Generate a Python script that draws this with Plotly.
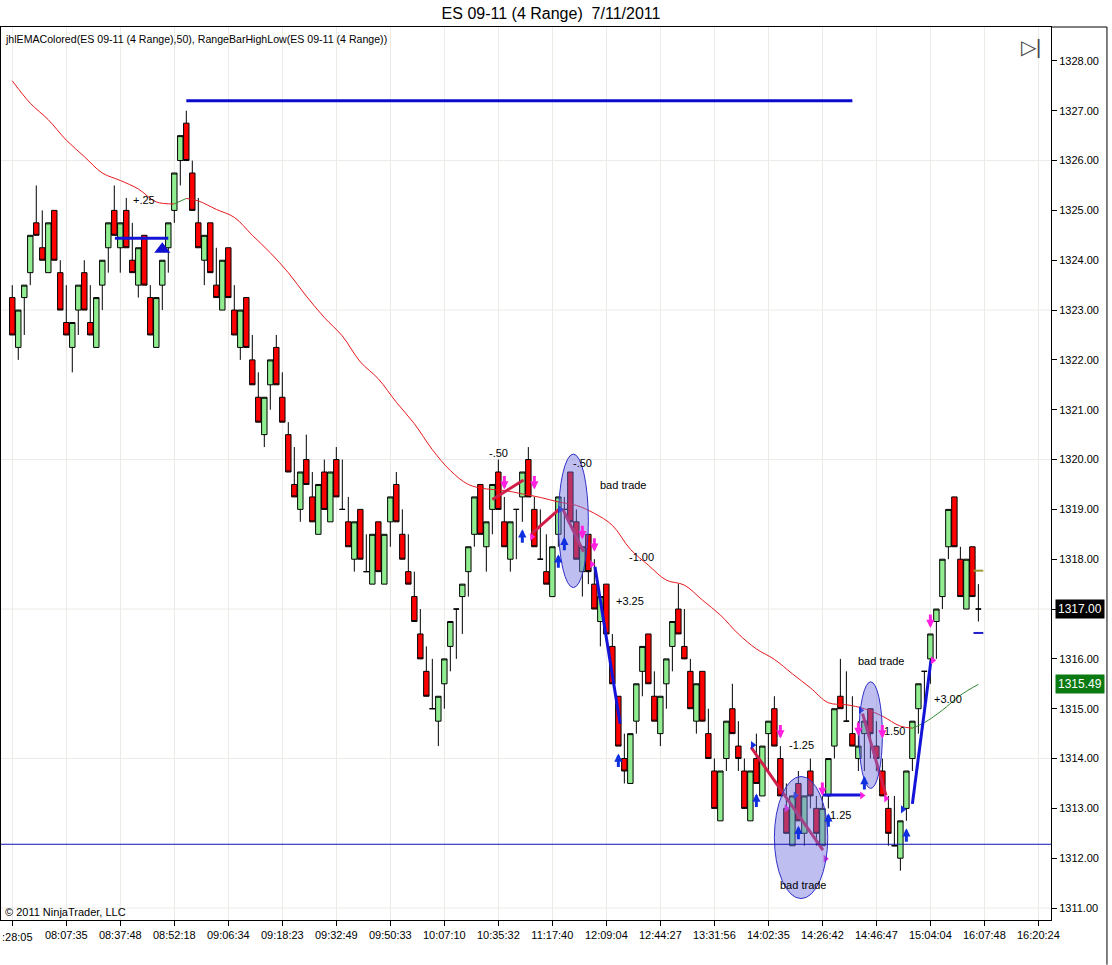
import plotly.graph_objects as go

# Range bars, ES 09-11 (4 Range), 7/11/2011
bar_open = [
    1323.25, 1322.25, 1323.25, 1323.75, 1324.75, 1324.25, 1323.75, 1325.0, 1323.75, 1322.75,
    1322.25, 1323.0, 1323.75, 1322.75, 1322.25, 1323.5, 1324.25, 1325.0, 1324.25, 1325.0,
    1324.0, 1323.5, 1324.5, 1323.25, 1322.25, 1323.5, 1324.25, 1325.0, 1326.0, 1326.75,
    1325.75, 1324.75, 1324.0, 1324.75, 1323.5, 1323.0, 1324.25, 1323.0, 1322.25, 1323.25,
    1322.0, 1321.25, 1320.5, 1321.5, 1322.25, 1321.25, 1320.5, 1319.5, 1319.0, 1320.0,
    1319.25, 1318.5, 1319.75, 1318.75, 1320.0, 1319.0, 1318.75, 1318.0, 1319.0, 1317.75,
    1317.5, 1318.75, 1317.5, 1318.75, 1319.5, 1318.5, 1317.75, 1317.25, 1316.5, 1315.75,
    1315.0, 1314.75, 1315.5, 1316.25, 1317.0, 1317.25, 1317.75, 1318.5, 1319.5, 1318.25,
    1319.0, 1319.75, 1318.75, 1318.0, 1319.0, 1319.25, 1320.0, 1319.0, 1318.0, 1317.75,
    1317.25, 1318.5, 1319.0, 1319.75, 1318.75, 1317.75, 1318.5, 1317.5, 1316.75, 1317.5,
    1316.25, 1315.25, 1314.0, 1313.5, 1314.75, 1315.75, 1316.5, 1315.25, 1314.5, 1315.5,
    1316.25, 1317.0, 1316.25, 1315.75, 1314.75, 1315.75, 1314.5, 1313.75, 1312.75, 1314.0,
    1315.0, 1314.25, 1313.75, 1312.75, 1314.0, 1313.25, 1314.5, 1315.0, 1314.0, 1313.0,
    1312.25, 1313.5, 1312.5, 1313.75, 1313.0, 1312.25, 1313.25, 1314.25, 1315.25, 1314.75,
    1314.5, 1314.0, 1314.5, 1315.0, 1314.25, 1313.75, 1313.0, 1312.25, 1312.0, 1313.0,
    1314.0, 1315.0, 1315.75, 1316.0, 1316.75, 1317.25, 1318.25, 1319.25, 1318.0, 1317.0,
    1318.25, 1317.0,
]
bar_high = [
    1323.5, 1323.0, 1323.5, 1324.5, 1325.5, 1325.0, 1324.75, 1325.0, 1324.0, 1323.5,
    1322.75, 1323.5, 1324.0, 1323.5, 1323.25, 1324.0, 1324.75, 1325.5, 1324.75, 1325.25,
    1324.75, 1324.25, 1324.5, 1323.5, 1323.25, 1324.0, 1324.75, 1325.75, 1326.5, 1327.0,
    1326.0, 1325.25, 1324.5, 1324.75, 1324.25, 1324.0, 1324.25, 1323.5, 1323.0, 1323.25,
    1322.5, 1321.75, 1321.25, 1322.0, 1322.5, 1321.75, 1320.75, 1320.25, 1319.75, 1320.5,
    1319.75, 1319.5, 1320.0, 1319.75, 1320.25, 1320.0, 1319.25, 1318.75, 1319.0, 1318.5,
    1318.5, 1318.75, 1318.5, 1319.25, 1319.75, 1319.0, 1318.5, 1317.75, 1317.0, 1316.25,
    1316.0, 1315.25, 1316.0, 1316.75, 1317.0, 1317.5, 1318.25, 1319.25, 1319.5, 1318.75,
    1319.5, 1320.0, 1319.25, 1318.75, 1319.0, 1319.75, 1320.25, 1319.25, 1319.0, 1318.5,
    1318.25, 1319.25, 1319.25, 1319.75, 1319.0, 1318.25, 1318.5, 1318.0, 1317.25, 1317.5,
    1316.5, 1315.25, 1314.5, 1314.5, 1315.5, 1316.25, 1316.5, 1315.75, 1315.25, 1316.0,
    1316.75, 1317.5, 1317.0, 1316.0, 1315.5, 1315.75, 1315.0, 1314.0, 1313.75, 1314.75,
    1315.5, 1314.75, 1314.0, 1313.75, 1314.5, 1314.25, 1314.75, 1315.25, 1314.25, 1313.5,
    1313.25, 1313.75, 1313.25, 1314.0, 1313.25, 1313.25, 1314.0, 1315.0, 1316.0, 1315.75,
    1315.25, 1314.75, 1314.75, 1315.0, 1314.75, 1314.0, 1313.25, 1313.25, 1312.75, 1313.75,
    1314.75, 1315.5, 1315.75, 1316.5, 1317.0, 1318.0, 1319.0, 1319.25, 1318.25, 1318.0,
    1318.25, 1317.5,
]
bar_low = [
    1322.5, 1322.0, 1322.5, 1323.5, 1324.5, 1324.0, 1323.75, 1324.0, 1323.0, 1322.5,
    1321.75, 1322.5, 1323.0, 1322.5, 1322.25, 1323.0, 1323.75, 1324.5, 1323.75, 1324.25,
    1323.75, 1323.25, 1323.5, 1322.5, 1322.25, 1323.0, 1323.75, 1324.75, 1325.5, 1326.0,
    1325.0, 1324.25, 1323.5, 1323.75, 1323.25, 1323.0, 1323.25, 1322.5, 1322.0, 1322.25,
    1321.5, 1320.75, 1320.25, 1321.0, 1321.5, 1320.75, 1319.75, 1319.25, 1318.75, 1319.5,
    1318.75, 1318.5, 1319.0, 1318.75, 1319.25, 1319.0, 1318.25, 1317.75, 1318.0, 1317.75,
    1317.5, 1317.75, 1317.5, 1318.25, 1318.75, 1318.0, 1317.5, 1316.75, 1316.0, 1315.25,
    1315.0, 1314.25, 1315.0, 1315.75, 1316.0, 1316.5, 1317.25, 1318.25, 1318.5, 1317.75,
    1318.5, 1319.0, 1318.25, 1317.75, 1318.0, 1318.75, 1319.25, 1318.25, 1318.0, 1317.5,
    1317.25, 1318.25, 1318.25, 1318.75, 1318.0, 1317.25, 1317.5, 1317.0, 1316.25, 1316.5,
    1315.5, 1314.25, 1313.5, 1313.5, 1314.5, 1315.25, 1315.5, 1314.75, 1314.25, 1315.0,
    1315.75, 1316.5, 1316.0, 1315.0, 1314.5, 1314.75, 1314.0, 1313.0, 1312.75, 1313.75,
    1314.5, 1313.75, 1313.0, 1312.75, 1313.5, 1313.25, 1313.75, 1314.25, 1313.25, 1312.5,
    1312.25, 1312.75, 1312.25, 1313.0, 1312.25, 1312.25, 1313.0, 1314.0, 1315.0, 1314.75,
    1314.25, 1313.75, 1313.75, 1314.0, 1313.75, 1313.25, 1312.25, 1312.25, 1311.75, 1312.75,
    1313.75, 1314.5, 1315.0, 1315.5, 1316.0, 1317.0, 1318.0, 1318.25, 1317.25, 1317.0,
    1317.25, 1316.75,
]
bar_close = [
    1322.5, 1323.0, 1323.5, 1324.5, 1324.5, 1324.0, 1324.75, 1324.0, 1323.0, 1322.5,
    1322.75, 1323.5, 1323.0, 1322.5, 1323.25, 1324.0, 1324.75, 1324.5, 1324.75, 1324.25,
    1323.75, 1324.25, 1323.5, 1322.5, 1323.25, 1324.0, 1324.75, 1325.75, 1326.5, 1326.0,
    1325.0, 1324.25, 1324.5, 1323.75, 1323.25, 1324.0, 1323.25, 1322.5, 1323.0, 1322.25,
    1321.5, 1320.75, 1321.25, 1322.0, 1321.5, 1320.75, 1319.75, 1319.25, 1319.75, 1319.5,
    1318.75, 1319.5, 1319.0, 1319.75, 1319.25, 1319.0, 1318.25, 1318.75, 1318.0, 1317.75,
    1318.5, 1317.75, 1318.5, 1319.25, 1318.75, 1318.0, 1317.5, 1316.75, 1316.0, 1315.25,
    1315.0, 1315.25, 1316.0, 1316.75, 1317.0, 1317.5, 1318.25, 1319.25, 1318.5, 1318.75,
    1319.5, 1319.0, 1318.25, 1318.75, 1319.0, 1319.75, 1319.25, 1318.25, 1318.0, 1317.5,
    1318.25, 1319.25, 1319.0, 1318.75, 1318.0, 1318.25, 1317.75, 1317.0, 1317.25, 1316.5,
    1315.5, 1314.25, 1313.75, 1314.5, 1315.5, 1316.25, 1315.5, 1314.75, 1315.25, 1316.0,
    1316.75, 1316.5, 1316.0, 1315.0, 1315.5, 1314.75, 1314.0, 1313.0, 1313.75, 1314.75,
    1314.5, 1314.0, 1313.0, 1313.75, 1313.5, 1314.25, 1314.75, 1314.25, 1313.25, 1312.5,
    1313.25, 1312.75, 1313.25, 1313.25, 1312.5, 1313.0, 1314.0, 1315.0, 1315.0, 1314.75,
    1314.25, 1314.25, 1314.75, 1314.5, 1314.0, 1313.25, 1312.5, 1312.25, 1312.75, 1313.75,
    1314.75, 1315.5, 1315.75, 1316.5, 1317.0, 1318.0, 1319.0, 1318.25, 1317.25, 1318.0,
    1317.25, 1317.0,
]
bar_idx = list(range(len(bar_open)))

# x axis labels (one every 9 bars); the first one is clipped at the left edge
tick_bars = list(range(0, 172, 9))
tick_labels = [":28:05", "08:07:35", "08:37:48", "08:52:18", "09:06:34", "09:18:23",
               "09:32:49", "09:50:33", "10:07:10", "10:35:32", "11:17:40", "12:09:04",
               "12:44:27", "13:31:56", "14:02:35", "14:26:42", "14:46:47", "15:04:04",
               "16:07:48", "16:20:24"]

# price axis labels (the 1317 one sits under the last-price flag)
price_ticks = list(range(1311, 1329))
last_price = 1317.0
ema_last = 1315.49

# jhlEMAColored(50)
ema_bar = [0, 3, 6, 9, 12, 15, 18, 21, 24, 27, 29, 31, 34, 37, 40, 43, 46, 49, 52, 55,
           58, 61, 64, 67, 70, 73, 76, 79, 82, 85, 88, 91, 94, 97, 100, 103, 106, 109,
           112, 115, 118, 121, 124, 127, 130, 133, 136, 139, 142, 145, 148, 150, 152,
           155, 158, 161]
ema_val = [1327.6, 1327.15, 1326.82, 1326.41, 1326.08, 1325.75, 1325.6, 1325.43, 1325.17,
           1325.13, 1325.24, 1325.19, 1325.02, 1324.86, 1324.5, 1324.15, 1323.75, 1323.28,
           1322.85, 1322.48, 1321.96, 1321.62, 1321.15, 1320.72, 1320.2, 1319.78, 1319.5,
           1319.41, 1319.38, 1319.31, 1319.24, 1319.15, 1319.08, 1318.92, 1318.68, 1318.2,
           1317.88, 1317.58, 1317.48, 1317.18, 1316.88, 1316.5, 1316.2, 1315.99, 1315.7,
           1315.42, 1315.12, 1315.08, 1315.0, 1314.85, 1314.65, 1314.61, 1314.72, 1314.97,
           1315.27, 1315.49]

# RangeBarHighLow levels
high_level = 1327.2
high_from, high_to = 29, 140
low_level = 1312.28
next_high, next_low = 1317.77, 1316.52

# strategy trades: start bar, start price, end bar, end price, winner?
trade_b0 = [17.1, 80.0, 86.6, 91.8, 97.1, 123.1, 135.1, 141.7, 150.0]
trade_p0 = [1324.44, 1319.2, 1318.52, 1318.99, 1317.85, 1314.23, 1313.27, 1314.9, 1313.09]
trade_b1 = [26.0, 85.2, 91.3, 95.2, 101.3, 135.1, 141.7, 145.6, 153.1]
trade_p1 = [1324.44, 1319.59, 1319.02, 1318.15, 1314.7, 1312.16, 1313.27, 1313.26, 1315.97]
trade_win = [True, False, False, False, True, False, True, False, True]

# arrow tips (long = blue up, short = magenta down)
long_bar = [85, 91, 92, 101, 124, 131, 136, 142, 149]
long_price = [1318.6, 1318.1, 1318.45, 1314.1, 1313.3, 1312.65, 1312.9, 1313.65, 1312.6]
short_bar = [82, 87, 95, 97, 128, 135, 141, 145, 153]
short_price = [1319.4, 1319.4, 1318.4, 1318.15, 1314.4, 1313.25, 1314.45, 1314.4, 1316.62]
exit_bar = [86.6, 96.6, 129, 135.5, 141.6, 145.6, 153.4]
exit_price = [1318.45, 1317.9, 1313.0, 1311.99, 1313.26, 1313.2, 1315.97]
fill_bar = [91.3, 123.4, 130.5, 141.4, 148.4]
fill_price = [1319.0, 1314.27, 1313.26, 1314.97, 1312.98]

note_text = ["+.25", "-.50", "-.50", "bad trade", "-1.00", "+3.25", "-1.25", "1.25",
             "bad trade", "bad trade", "1.50", "+3.00"]
note_bar = [22.0, 81.0, 95.0, 101.8, 104.8, 103.0, 131.6, 138.1, 131.8, 144.7, 147.1, 156.0]
note_price = [1325.2, 1320.13, 1319.93, 1319.49, 1318.04, 1317.16, 1314.27, 1312.86,
              1311.47, 1315.95, 1314.55, 1315.19]

# "bad trade" ellipses: bar range, price range
oval_b0 = [91.0, 127.0, 141.1]
oval_b1 = [96.0, 135.9, 145.0]
oval_p0 = [1317.43, 1311.19, 1313.40]
oval_p1 = [1320.11, 1313.64, 1315.54]

grid_levels = [1311, 1314, 1317, 1320, 1323, 1326]

FONT = "Liberation Sans, Arial, sans-serif"
GRID = "#ECEBE6"
BLUE_ARROW = "#1030E0"
PINK_ARROW = "#FF20E0"

fig = go.Figure()

fig.add_trace(go.Candlestick(
    x=bar_idx, open=bar_open, high=bar_high, low=bar_low, close=bar_close,
    increasing=dict(fillcolor="#90EE90", line=dict(color="black", width=1)),
    decreasing=dict(fillcolor="#FF0000", line=dict(color="black", width=1)),
    whiskerwidth=0, showlegend=False, hoverinfo="skip",
))

# EMA: red while falling, green while rising
runs = []
for k in range(1, len(ema_val)):
    up = ema_val[k] > ema_val[k - 1]
    if runs and runs[-1][0] == up:
        runs[-1][1].append(k)
    else:
        runs.append([up, [k - 1, k]])
for up, ks in runs:
    fig.add_trace(go.Scatter(
        x=[ema_bar[k] for k in ks], y=[ema_val[k] for k in ks], mode="lines",
        line=dict(color="#2E8B2E" if up else "#E8181E", width=1, shape="spline"),
        showlegend=False, hoverinfo="skip",
    ))

# RangeBarHighLow
fig.add_trace(go.Scatter(x=[high_from, high_to], y=[high_level, high_level], mode="lines",
                         line=dict(color="#0A0ACC", width=3), showlegend=False))
fig.add_trace(go.Scatter(x=[bar_idx[-1]], y=[next_high], mode="markers",
                         marker=dict(symbol="line-ew", size=7, line=dict(color="#9A9A30", width=2)),
                         showlegend=False))
fig.add_trace(go.Scatter(x=[bar_idx[-1]], y=[next_low], mode="markers",
                         marker=dict(symbol="line-ew", size=7, line=dict(color="#2020CC", width=2)),
                         showlegend=False))

# trades
for b0, p0, b1, p1, win in zip(trade_b0, trade_p0, trade_b1, trade_p1, trade_win):
    fig.add_trace(go.Scatter(x=[b0, b1], y=[p0, p1], mode="lines",
                             line=dict(color="#1414D8" if win else "#D01E48", width=3),
                             showlegend=False))

fig.add_trace(go.Scatter(x=[25], y=[1324.22], mode="markers",
                         marker=dict(symbol="triangle-up", size=14, color="#1010D0"),
                         showlegend=False))
fig.add_trace(go.Scatter(x=exit_bar, y=exit_price, mode="markers",
                         marker=dict(symbol="triangle-right", size=7, color=PINK_ARROW),
                         showlegend=False))
fig.add_trace(go.Scatter(x=fill_bar, y=fill_price, mode="markers",
                         marker=dict(symbol="triangle-right", size=7, color=BLUE_ARROW),
                         showlegend=False))

for b, p in zip(long_bar, long_price):
    fig.add_annotation(x=b, y=p, ax=0, ay=15, text="", showarrow=True, arrowhead=2,
                       arrowsize=0.55, arrowwidth=3, arrowcolor=BLUE_ARROW)
for b, p in zip(short_bar, short_price):
    fig.add_annotation(x=b, y=p, ax=0, ay=-15, text="", showarrow=True, arrowhead=2,
                       arrowsize=0.55, arrowwidth=3, arrowcolor=PINK_ARROW)

for b0, b1, p0, p1 in zip(oval_b0, oval_b1, oval_p0, oval_p1):
    fig.add_shape(type="circle", xref="x", yref="y", x0=b0, x1=b1, y0=p0, y1=p1,
                  fillcolor="rgba(110,110,225,0.45)", line=dict(color="#3030C8", width=1),
                  layer="above")

for lvl in grid_levels:
    fig.add_shape(type="line", xref="paper", yref="y", x0=0, x1=1, y0=lvl, y1=lvl,
                  line=dict(color=GRID, width=1), layer="below")

fig.add_shape(type="line", xref="paper", yref="y", x0=0, x1=1, y0=low_level, y1=low_level,
              line=dict(color="#1010B0", width=1))

# outer frame bits to the right of the price axis
fig.add_shape(type="line", xref="paper", yref="paper", x0=1, x1=1.0533, y0=1, y1=1,
              line=dict(color="black", width=1))
fig.add_shape(type="line", xref="paper", yref="paper", x0=1.0533, x1=1.0533, y0=1, y1=-0.05,
              line=dict(color="black", width=1))

for t, b, p in zip(note_text, note_bar, note_price):
    fig.add_annotation(x=b, y=p, text=t, showarrow=False,
                       font=dict(family=FONT, size=11, color="black"))

annots = [
    dict(xref="paper", yref="paper", x=0.002, y=0.9866, xanchor="left", yanchor="middle",
         text="jhlEMAColored(ES 09-11 (4 Range),50), RangeBarHighLow(ES 09-11 (4 Range))",
         font=dict(size=10.6)),
    dict(xref="paper", yref="paper", x=0.002, y=0.009, xanchor="left", yanchor="middle",
         text="© 2011 NinjaTrader, LLC", font=dict(size=11)),
    dict(xref="paper", yref="paper", x=0.981, y=0.9776, xanchor="center", yanchor="middle",
         text="▷|", font=dict(size=20, color="#444444")),
    # clipped first time label, pinned to the left edge
    dict(xref="paper", yref="paper", x=-0.0005, y=0, yshift=-9, xanchor="left",
         yanchor="top", text=tick_labels[0], font=dict(size=11)),
    dict(xref="paper", yref="y", x=1, xshift=4, y=last_price, xanchor="left",
         yanchor="middle", text=f"{last_price:.2f}", bgcolor="black",
         font=dict(size=12, color="white"), borderpad=2),
    dict(xref="paper", yref="y", x=1, xshift=4, y=ema_last, xanchor="left",
         yanchor="middle", text=f"{ema_last:.2f}", bgcolor="#0B7A12",
         font=dict(size=12, color="white"), borderpad=2),
]
for a in annots:
    a["showarrow"] = False
    a["font"]["family"] = FONT
    a["font"].setdefault("color", "black")
    fig.add_annotation(**a)

fig.update_layout(
    title=dict(text="ES 09-11 (4 Range) \u00a07/11/2011", x=551 / 1112, y=1 - 13 / 965,
               xanchor="center", yanchor="middle", xref="container", yref="container",
               font=dict(family=FONT, size=16, color="black")),
    width=1112,
    height=965,
    margin=dict(l=1, r=61, t=27, b=45),
    paper_bgcolor="white",
    plot_bgcolor="white",
    font=dict(family=FONT, size=11, color="black"),
    boxgap=0.05,
    boxgroupgap=0.05,
    showlegend=False,
    xaxis=dict(
        range=[-1.88, 173.1], tickmode="array", tickvals=tick_bars,
        ticktext=[""] + tick_labels[1:],
        ticks="outside", ticklen=5, tickcolor="black", showline=True, linecolor="black",
        mirror=True, showgrid=True, gridcolor=GRID, zeroline=False,
        rangeslider=dict(visible=False), automargin=False,
        tickfont=dict(family=FONT, size=11, color="black"),
    ),
    yaxis=dict(
        side="right", range=[1310.76, 1328.68], tickmode="array", tickvals=price_ticks,
        ticktext=["" if v == last_price else f"{v:.2f}" for v in price_ticks],
        ticks="outside", ticklen=5, tickcolor="black", showline=True, linecolor="black",
        mirror=True, showgrid=False, zeroline=False, automargin=False,
        tickfont=dict(family=FONT, size=11, color="black"),
    ),
)

# drop the browser's default body margin so the figure sits at the page corner
fig.write_html("out.html", config={"displayModeBar": False},
               post_script="document.body.style.margin='0px';")
